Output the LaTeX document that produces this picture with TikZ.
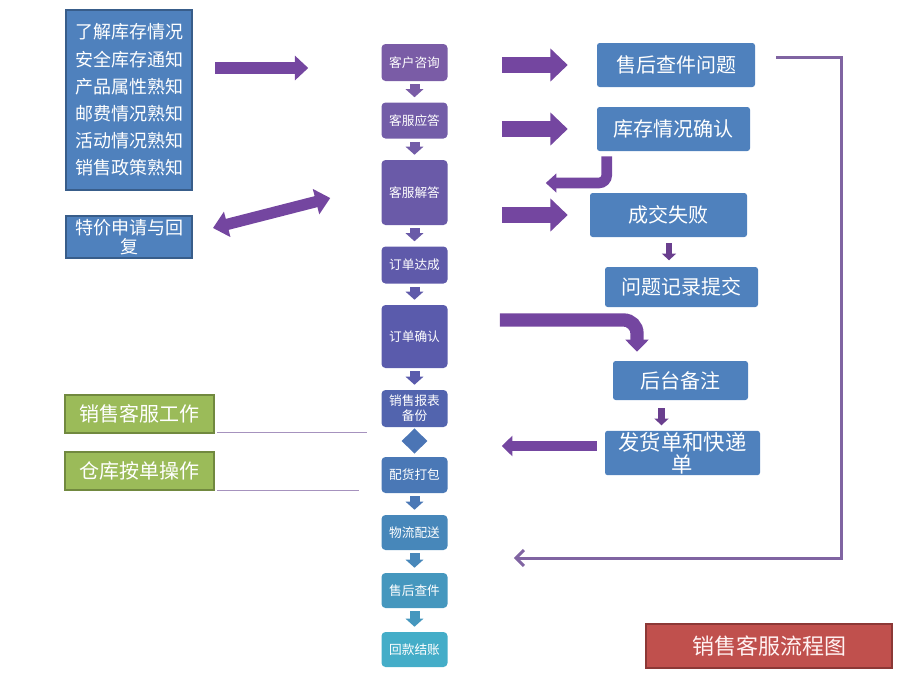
\documentclass[tikz,border=0pt]{standalone}
\usepackage{fontspec}
\setmainfont{Noto Sans CJK SC}
\usetikzlibrary{arrows.meta,shapes.geometric,calc}

\definecolor{boxblue}{HTML}{4F81BD}
\definecolor{boxline}{HTML}{385D8A}
\definecolor{arrowpurple}{HTML}{7446A0}
\definecolor{darkpurple}{HTML}{6A3F8E}
\definecolor{loopcol}{HTML}{8064A2}
\definecolor{okgreen}{HTML}{9BBB59}
\definecolor{greenline}{HTML}{71893F}
\definecolor{titlered}{HTML}{C0504D}
\definecolor{redline}{HTML}{8C3836}
\definecolor{mA}{HTML}{7A5CA6}
\definecolor{mB}{HTML}{735DA8}
\definecolor{mC}{HTML}{6A5AA8}
\definecolor{mD}{HTML}{5F5AAA}
\definecolor{mE}{HTML}{5A5BAC}
\definecolor{mF}{HTML}{5264AE}
\definecolor{mG}{HTML}{4A78B6}
\definecolor{mH}{HTML}{4787BA}
\definecolor{mI}{HTML}{4597BE}
\definecolor{mJ}{HTML}{44ADC8}

\tikzset{
  midbox/.style={fill=#1, rounded corners=3pt, minimum width=49.5pt, text=white,
    font=\fontsize{9.5}{11}\selectfont, align=center, inner sep=1pt},
  bluebox/.style={fill=boxblue, rounded corners=2pt, text=white,
    font=\fontsize{15}{16}\selectfont, align=center, inner sep=1pt},
  greenbox/.style={fill=okgreen, draw=greenline, line width=1.5pt, text=white,
    minimum width=111.75pt, minimum height=28.5pt, font=\fontsize{15}{16}\selectfont},
  downarrow/.style={draw=#1, line width=7.5pt, -{Triangle[width=13pt,length=6pt]}},
  bigarrow/.style={draw=arrowpurple, line width=12pt, -{Triangle[width=24pt,length=13pt]}},
  smallpurple/.style={draw=darkpurple, line width=5pt, -{Triangle[width=10.5pt,length=5pt]}},
  thinline/.style={draw=loopcol!70, line width=0.6pt}
}

\begin{document}
\begin{tikzpicture}[x=0.75pt,y=-0.75pt]
  \useasboundingbox (0,0) rectangle (920,690);

  % Left side boxes
  \node[fill=boxblue, draw=boxline, line width=1.5pt, minimum width=94.5pt, minimum height=135pt,
    text=white, align=center, font=\fontsize{13.5}{20.4}\selectfont] (info) at (129,100)
    {了解库存情况\\安全库存通知\\产品属性熟知\\邮费情况熟知\\活动情况熟知\\销售政策熟知};
  \node[fill=boxblue, draw=boxline, line width=1.5pt, minimum width=94.5pt, minimum height=31.5pt,
    text=white, align=center, inner sep=0pt, font=\fontsize{13.5}{14.2}\selectfont] (special) at (129,237)
    {特价申请与回\\复};
  \node[greenbox] (g1) at (139.5,414) {销售客服工作};
  \node[greenbox] (g2) at (139.5,471) {仓库按单操作};

  % Middle column
  \node[midbox=mA, minimum height=27.75pt] (q1) at (414.5,62.5) {客户咨询};
  \node[midbox=mB, minimum height=27pt] (q2) at (414.5,120.5) {客服应答};
  \node[midbox=mC, minimum height=48.75pt] (q3) at (414.5,192.5) {客服解答};
  \node[midbox=mD, minimum height=27.75pt] (q4) at (414.5,265) {订单达成};
  \node[midbox=mE, minimum height=47.25pt] (q5) at (414.5,336.5) {订单确认};
  \node[midbox=mF, minimum height=27.75pt, font=\fontsize{9.5}{11.2}\selectfont] (q6) at (414.5,408.5) {销售报表\\备份};
  \node[diamond, fill=mG!85!mF, minimum width=19.5pt, minimum height=19pt, inner sep=0pt] (dia) at (414.5,441) {};
  \node[midbox=mG, minimum height=27pt] (q7) at (414.5,475) {配货打包};
  \node[midbox=mH, minimum height=26.25pt] (q8) at (414.5,532.5) {物流配送};
  \node[midbox=mI, minimum height=26.25pt] (q9) at (414.5,590.5) {售后查件};
  \node[midbox=mJ, minimum height=26.25pt] (q10) at (414.5,649.5) {回款结账};

  % Right boxes
  \node[bluebox, minimum width=118.5pt, minimum height=33pt] (r1) at (676,65) {售后查件问题};
  \node[bluebox, minimum width=114.75pt, minimum height=33pt] (r2) at (673.5,129) {库存情况确认};
  \node[bluebox, minimum width=117.75pt, minimum height=33pt] (r3) at (668.5,215) {成交失败};
  \node[bluebox, minimum width=114.75pt, minimum height=30pt] (r4) at (681.5,287) {问题记录提交};
  \node[bluebox, minimum width=101.25pt, minimum height=29.25pt] (r5) at (680.5,380.5) {后台备注};
  \node[bluebox, minimum width=116.25pt, minimum height=30pt, font=\fontsize{16}{16.5}\selectfont] (r6) at (682.5,453) {发货单和快递\\单};

  % Title
  \node[fill=titlered, draw=redline, line width=1.5pt, minimum width=184.5pt, minimum height=33pt,
    text=red!5, font=\fontsize{16.5}{18}\selectfont] (title) at (769,646) {销售客服流程图};

  % Down arrows in the column
  \draw[downarrow=mA, shorten <=2.25pt, shorten >=3.75pt] (q1) -- (q2);
  \draw[downarrow=mB, shorten <=2.25pt, shorten >=3.75pt] (q2) -- (q3);
  \draw[downarrow=mC, shorten <=2.25pt, shorten >=3.75pt] (q3) -- (q4);
  \draw[downarrow=mD, shorten <=2.25pt, shorten >=3.75pt] (q4) -- (q5);
  \draw[downarrow=mE, shorten <=2.25pt, shorten >=3.75pt] (q5) -- (q6);
  \draw[downarrow=mG, shorten <=2.25pt, shorten >=3.75pt] (q7) -- (q8);
  \draw[downarrow=mH, shorten <=2.25pt, shorten >=3.75pt] (q8) -- (q9);
  \draw[downarrow=mI, shorten <=2.25pt, shorten >=3.75pt] (q9) -- (q10);

  % Big arrows
  \draw[draw=arrowpurple, line width=9pt, -{Triangle[width=18pt,length=10pt]}, shorten <=16.5pt, shorten >=54.75pt]
    ($(info.east |- q1.west)+(0,5.5)$) -- ($(q1.west)+(0,5.5)$);
  \draw[draw=arrowpurple, line width=8.5pt, {Triangle[width=19pt,length=11pt]}-{Triangle[width=19pt,length=11pt]}]
    ($(special.east)+(20,-9)$) -- ($(q3.west)+(-51,5.5)$);
  \draw[bigarrow, shorten <=40.5pt, shorten >=21.75pt] (q1.east |- r1.west) -- (r1.west);
  \draw[bigarrow, shorten <=40.5pt, shorten >=21.75pt] (q2.east |- r2.west) -- (r2.west);
  \draw[bigarrow, shorten <=40.5pt, shorten >=16.5pt] (q3.east |- r3.west) -- (r3.west);
  \draw[draw=arrowpurple, line width=8pt, rounded corners=6pt, -{Triangle[width=14pt,length=8pt]}]
    ($(r2.south west)+(10,5)$) |- ($(q3.east)+(98,-9.5)$);
  \draw[draw=arrowpurple, line width=10pt, rounded corners=10pt, -{Triangle[width=17pt,length=9pt]}]
    ($(q5.east)+(52,-16.5)$) -| ($(r5.north)+(-43.5,-9)$);
  \draw[draw=arrowpurple, line width=7.5pt, -{Triangle[width=15pt,length=8pt]}]
    ($(r6.west)+(-8,-7)$) -- ($(r6.west)+(-103,-7)$);

  % Small arrows on the right
  \draw[smallpurple] ($(r3.south)+(0.5,6)$) -- ($(r3.south)+(0.5,23)$);
  \draw[smallpurple] ($(r5.south)+(-19,8)$) -- ($(r5.south)+(-19,25)$);

  % Loop back line
  \coordinate (loopc) at (841,558);
  \draw[draw=loopcol, line width=2.25pt, -{Straight Barb[length=6pt,width=12pt]}]
    ($(r1.east)+(21,-8)$) -| (loopc) -- ($(q9.east)+(66,-32.5)$);

  % Lines under the green boxes
  \draw[thinline] ($(g1.south east)+(2,-2)$) -- ++(150,0);
  \draw[thinline] ($(g2.south east)+(2,-1)$) -- ++(142,0);
\end{tikzpicture}
\end{document}
